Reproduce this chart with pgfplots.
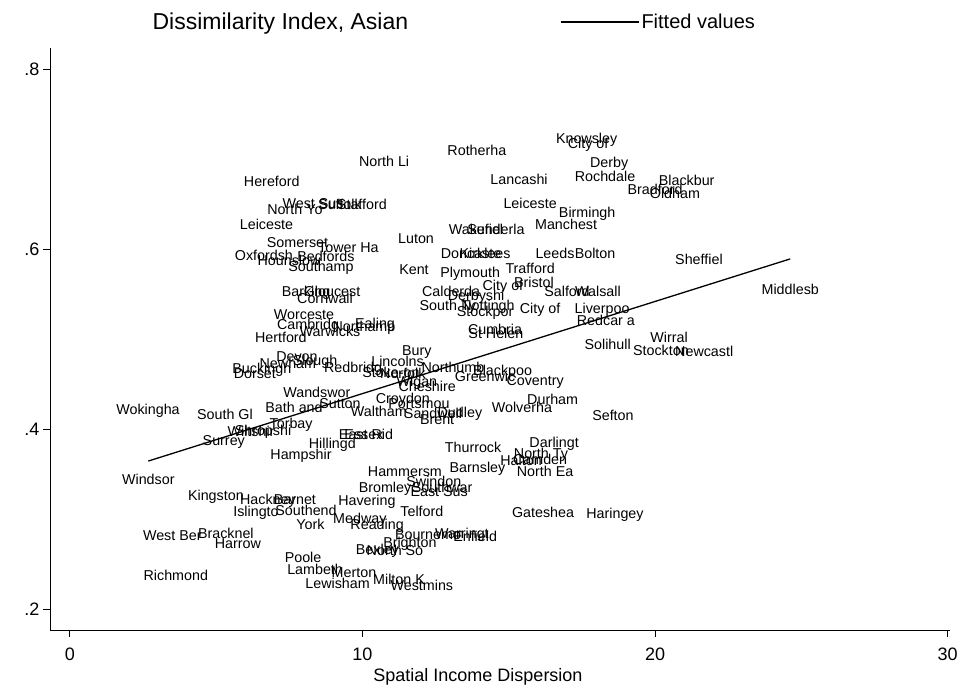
\documentclass[border=0pt]{standalone}
\usepackage{pgfplots}
\pgfplotsset{compat=1.18}
\usepackage{fontspec}
\setmainfont{Liberation Sans}

\begin{document}
\begin{tikzpicture}
\begin{axis}[
  scale only axis, width=900pt, height=582pt,
  xmin=-0.68, xmax=30.08, ymin=0.1767, ymax=0.8233,
  axis x line*=bottom, axis y line*=left,
  axis line style={line width=0.8pt},
  tick align=outside, major tick length=7pt,
  every tick/.style={black, line width=0.8pt},
  xtick={0,10,20,30},
  ytick={0.2,0.4,0.6,0.8}, yticklabels={.2,.4,.6,.8},
  /pgf/number format/assume math mode=true,
  tick label style={font=\fontsize{18}{20}\selectfont},
  xticklabel style={yshift=-7pt},
  xlabel={Spatial Income Dispersion},
  xlabel style={font=\fontsize{18}{20}\selectfont, yshift=-1pt, xshift=-22pt},
  legend columns=2,
  legend style={draw=none, fill=none, inner sep=0pt,
    at={(axis description cs:0,1)}, anchor=west, xshift=22pt, yshift=26pt,
    font=\fontsize{20}{22}\selectfont,
    /tikz/every even column/.append style={column sep=150pt}},
  legend image code/.code={\draw[#1] (0pt,0pt) -- (78pt,0pt);},
]
\addlegendimage{draw opacity=0}
\addlegendentry{\fontsize{23}{25}\selectfont Dissimilarity Index, Asian}

% marker labels centred on the points (no symbol)
\addplot[only marks, mark=*, mark size=0pt, mark options={draw=none, fill=none},
  nodes near coords, point meta=explicit symbolic,
  nodes near coords align=center,
  every node near coord/.append style={anchor=center, inner sep=0pt,
    font=\fontsize{14.3}{16}\selectfont}, forget plot]
  table[x=x, y=y, meta=lab, col sep=comma, row sep=\\] {
x,y,lab\\
17.66,0.721,Knowsley\\
17.71,0.7156,City of\\
13.91,0.710,Rotherha\\
10.74,0.697,North Li\\
18.43,0.695,Derby\\
18.29,0.681,Rochdale\\
15.35,0.677,Lancashi\\
21.08,0.676,Blackbur\\
6.90,0.675,Hereford\\
20.00,0.666,Bradford\\
20.68,0.662,Oldham\\
15.73,0.651,Leiceste\\
8.31,0.650,West Sus\\
9.23,0.650,Suffolk\\
9.98,0.650,Stafford\\
7.69,0.644,North Yo\\
17.68,0.639,Birmingh\\
6.72,0.627,Leiceste\\
16.96,0.627,Manchest\\
13.88,0.622,Wakefiel\\
14.56,0.622,Sunderla\\
11.83,0.612,Luton\\
7.78,0.607,Somerset\\
9.52,0.601,Tower Ha\\
13.71,0.595,Doncaste\\
14.19,0.595,Kirklees\\
16.58,0.595,Leeds\\
17.95,0.595,Bolton\\
6.63,0.593,Oxfordsh\\
8.75,0.5915,Bedfords\\
21.50,0.5886,Sheffiel\\
7.49,0.587,Hounslow\\
8.58,0.5786,Southamp\\
15.73,0.578,Trafford\\
11.76,0.5767,Kent\\
13.68,0.572,Plymouth\\
15.86,0.563,Bristol\\
14.80,0.558,City of\\
24.62,0.5552,Middlesb\\
8.96,0.5526,Gloucest\\
13.03,0.5526,Calderda\\
16.99,0.5526,Salford\\
18.05,0.5526,Walsall\\
8.07,0.5508,Barking\\
13.88,0.547,Derbyshi\\
8.72,0.545,Cornwall\\
12.92,0.536,South Ty\\
14.29,0.536,Nottingh\\
16.07,0.532,City of\\
18.19,0.532,Liverpoo\\
14.19,0.529,Stockpor\\
8.00,0.5267,Worceste\\
18.32,0.521,Redcar a\\
10.43,0.5156,Ealing\\
8.14,0.5144,Cambridg\\
10.05,0.512,Northamp\\
14.53,0.511,Cumbria\\
8.89,0.508,Warwicks\\
14.56,0.5063,St Helen\\
7.21,0.502,Hertford\\
20.48,0.502,Wirral\\
18.38,0.494,Solihull\\
20.20,0.4878,Stockton\\
21.68,0.486,Newcastl\\
11.86,0.486,Bury\\
7.76,0.4803,Devon\\
11.20,0.4748,Lincolns\\
8.38,0.4748,Slough\\
7.45,0.473,Newham\\
13.09,0.469,Northumb\\
9.68,0.4674,Redbridg\\
6.56,0.4656,Buckingh\\
14.79,0.4637,Blackpoo\\
10.97,0.4626,Stoke-on\\
11.38,0.462,Norfolk\\
6.32,0.461,Dorset\\
14.19,0.458,Greenwic\\
15.90,0.4526,Coventry\\
11.86,0.4508,Wigan\\
12.21,0.447,Cheshire\\
8.44,0.4403,Wandswor\\
16.50,0.433,Durham\\
11.38,0.432,Croydon\\
9.23,0.4278,Sutton\\
11.93,0.4278,Portsmou\\
7.66,0.424,Bath and\\
15.45,0.424,Wolverha\\
2.67,0.420,Wokingha\\
10.56,0.420,Waltham\\
12.41,0.4174,Sandwell\\
13.33,0.4174,Dudley\\
5.30,0.416,South Gl\\
18.56,0.4156,Sefton\\
12.55,0.410,Brent\\
7.56,0.405,Torbay\\
6.19,0.397,Wiltshir\\
6.60,0.397,Shropshi\\
10.12,0.394,East Rid\\
10.05,0.394,Essex\\
5.26,0.386,Surrey\\
16.55,0.384,Darlingt\\
8.97,0.383,Hillingd\\
13.78,0.3797,Thurrock\\
16.10,0.371,North Ty\\
7.90,0.370,Hampshir\\
16.07,0.3667,Camden\\
15.42,0.3648,Halton\\
13.93,0.3556,Barnsley\\
11.45,0.3526,Hammersm\\
16.24,0.3526,North Ea\\
2.68,0.3444,Windsor\\
12.44,0.3414,Swindon\\
12.72,0.3356,Southwar\\
10.77,0.334,Bromley\\
12.62,0.3303,East Sus\\
4.99,0.3248,Kingston\\
7.69,0.3219,Barnet\\
6.77,0.3203,Hackney\\
10.15,0.3192,Havering\\
8.07,0.310,Southend\\
12.03,0.308,Telford\\
6.36,0.307,Islingto\\
16.17,0.307,Gateshea\\
18.63,0.3044,Haringey\\
9.91,0.2989,Medway\\
8.22,0.2944,York\\
10.50,0.292,Reading\\
5.33,0.2841,Bracknel\\
12.24,0.2822,Bournemo\\
13.40,0.2822,Warringt\\
3.50,0.281,West Ber\\
13.85,0.281,Enfield\\
11.62,0.273,Brighton\\
5.74,0.273,Harrow\\
10.51,0.2648,Bexley\\
11.11,0.2648,North So\\
7.97,0.2574,Poole\\
8.38,0.2441,Lambeth\\
9.71,0.2404,Merton\\
3.62,0.2378,Richmond\\
11.25,0.233,Milton K\\
9.15,0.2285,Lewisham\\
12.03,0.2267,Westmins\\
};

\addplot[black, line width=1.3pt] coordinates {(2.68,0.3644) (24.62,0.589)};
\addlegendentry{Fitted values}
\end{axis}
\path (current axis.south west) ++(-50pt,-62pt) rectangle ++(963pt,692pt);
\end{tikzpicture}
\end{document}
